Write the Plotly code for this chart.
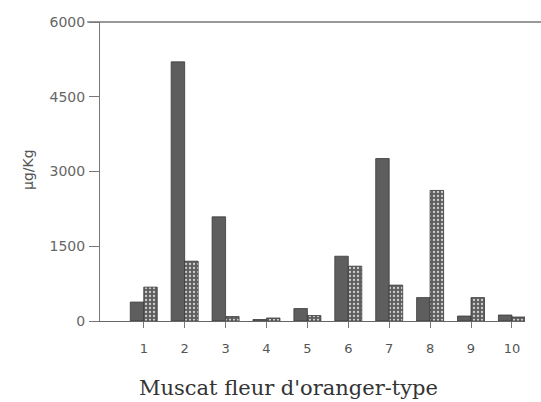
import plotly.graph_objects as go

# Muscat fleur d'oranger-type cultivars, concentrations in µg/Kg
cultivars = [1, 2, 3, 4, 5, 6, 7, 8, 9, 10]
series_a = [380, 5200, 2090, 30, 250, 1300, 3260, 470, 100, 120]
series_b = [680, 1200, 90, 60, 110, 1100, 720, 2620, 470, 80]

y_ticks = [0, 1500, 3000, 4500, 6000]
y_tick_text = ["0", "1500", "3000", "4500", "6000"]
x_tick_text = [str(c) for c in cultivars]

fig = go.Figure()
fig.add_trace(go.Bar(
    x=cultivars, y=series_a,
    marker=dict(color="#5e5e5e", line=dict(color="#3a3a3a", width=0.8)),
))
fig.add_trace(go.Bar(
    x=cultivars, y=series_b,
    marker=dict(
        color="#666666",
        line=dict(color="#3a3a3a", width=0.8),
        pattern=dict(shape=".", fgcolor="#d0d0d0", bgcolor="#5f5f5f",
                     size=4, solidity=0.25, fillmode="replace"),
    ),
))

fig.update_layout(
    width=541, height=402,
    margin=dict(l=100, r=16, t=22, b=81),
    paper_bgcolor="white", plot_bgcolor="white",
    barmode="group", bargap=0.34, bargroupgap=0,
    showlegend=False,
    font=dict(family="DejaVu Sans", size=11, color="#444"),
    xaxis=dict(
        range=[-0.07, 10.32],
        tickmode="array", tickvals=cultivars, ticktext=x_tick_text,
        ticks="outside", ticklen=6, tickcolor="#777", tickwidth=1,
        ticklabelstandoff=9,
        showline=True, linecolor="#666", linewidth=1.2,
        showgrid=False, zeroline=False,
        tickfont=dict(family="DejaVu Sans", size=13, color="#555"),
    ),
    yaxis=dict(
        range=[0, 6000],
        tickmode="array", tickvals=y_ticks, ticktext=y_tick_text,
        ticks="outside", ticklen=10, tickcolor="#777", tickwidth=1,
        ticklabelstandoff=1,
        showline=True, linecolor="#777", linewidth=1,
        showgrid=False, zeroline=False,
        tickfont=dict(family="DejaVu Sans", size=14, color="#666"),
    ),
    shapes=[
        dict(type="line", xref="paper", yref="paper",
             x0=-0.03, x1=1.04, y0=1, y1=1,
             line=dict(color="#777", width=1.3)),
    ],
    annotations=[
        dict(text="µg/Kg", xref="paper", yref="paper",
             x=(28 - 100) / 425, y=(321 - 170) / 299, textangle=-90,
             showarrow=False, xanchor="center", yanchor="middle",
             font=dict(family="DejaVu Sans", size=14, color="#555")),
        dict(text="Muscat fleur d'oranger-type", xref="paper", yref="paper",
             x=(288 - 100) / 425, y=(321 - 388) / 299, showarrow=False,
             xanchor="center", yanchor="middle",
             font=dict(family="DejaVu Serif", size=21, color="#333")),
    ],
)

fig.write_html("out.html")
